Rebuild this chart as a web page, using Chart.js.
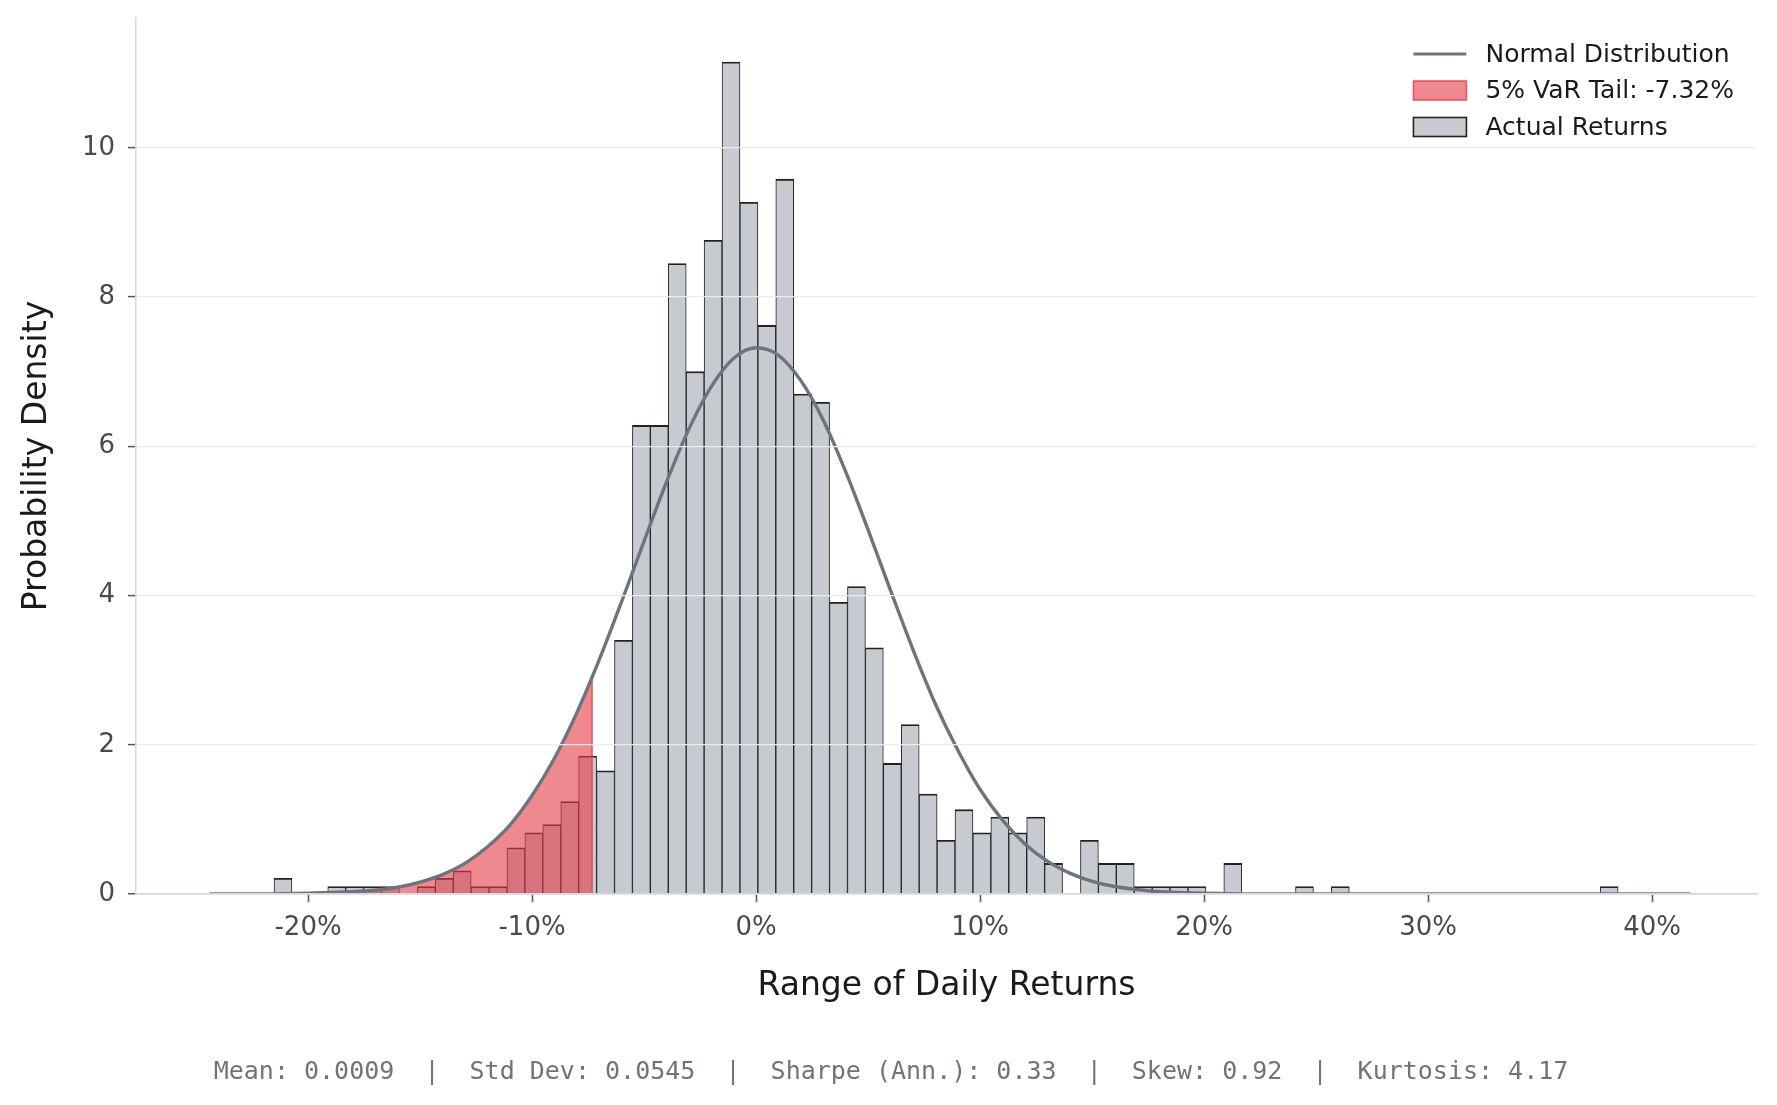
<!DOCTYPE html>
<html>
<head>
<meta charset="utf-8">
<title>Distribution of Daily Returns</title>
<script src="https://cdn.jsdelivr.net/npm/chart.js@4.4.1/dist/chart.umd.min.js"></script>
<style>
  html, body { margin: 0; padding: 0; background: #ffffff; }
  #wrap { width: 1777px; height: 1105px; }
  canvas { display: block; }
</style>
</head>
<body>
<div id="wrap"><canvas id="returnsChart" width="1777" height="1105"></canvas></div>
<script>
// histogram bins (centre of each 0.8% bin, in %) and their density
const binCenters = [
  -21.12, -20.32, -19.52, -18.72, -17.92, -17.12, -16.32, -15.52, -14.72, -13.92,
  -13.12, -12.32, -11.52, -10.72, -9.92, -9.12, -8.32, -7.52, -6.72, -5.92,
  -5.12, -4.32, -3.52, -2.72, -1.92, -1.12, -0.32, 0.48, 1.28, 2.08,
  2.88, 3.68, 4.48, 5.28, 6.08, 6.88, 7.68, 8.48, 9.28, 10.08,
  10.88, 11.68, 12.48, 13.28, 14.08, 14.88, 15.68, 16.48, 17.28, 18.08,
  18.88, 19.68, 20.48, 21.28, 22.08, 22.88, 23.68, 24.48, 25.28, 26.08,
  26.88, 27.68, 28.48, 29.28, 30.08, 30.88, 31.68, 32.48, 33.28, 34.08,
  34.88, 35.68, 36.48, 37.28, 38.08
];
const binDensity = [
  0.21, 0, 0, 0.10, 0.10, 0.10, 0.10, 0, 0.10, 0.21,
  0.31, 0.10, 0.10, 0.62, 0.82, 0.93, 1.24, 1.85, 1.65, 3.40,
  6.28, 6.28, 8.45, 7.00, 8.76, 11.15, 9.27, 7.62, 9.58, 6.70,
  6.59, 3.91, 4.12, 3.30, 1.75, 2.27, 1.34, 0.72, 1.13, 0.82,
  1.03, 0.82, 1.03, 0.41, 0, 0.72, 0.41, 0.41, 0.10, 0.10,
  0.10, 0.10, 0, 0.41, 0, 0, 0, 0.10, 0, 0.10,
  0, 0, 0, 0, 0, 0, 0, 0, 0, 0,
  0, 0, 0, 0, 0.10
];

// normal curve
const normalX = [
  -24.4, -22, -20, -18, -17, -16, -15, -14, -13, -12,
  -11, -10, -9, -8, -7, -6, -5, -4, -3, -2,
  -1, 0, 1, 2, 3, 4, 5, 6, 7, 8,
  9, 10, 11, 12, 13, 14, 15, 16, 17, 18,
  20, 22, 25, 30, 35, 41.7
];
const normalY = [
  0.00, 0.00, 0.01, 0.03, 0.05, 0.09, 0.16, 0.26, 0.41, 0.63,
  0.92, 1.32, 1.82, 2.43, 3.14, 3.92, 4.73, 5.52, 6.23, 6.80,
  7.18, 7.32, 7.22, 6.88, 6.35, 5.66, 4.88, 4.07, 3.28, 2.55,
  1.93, 1.40, 0.99, 0.67, 0.44, 0.28, 0.17, 0.10, 0.06, 0.03,
  0.01, 0.00, 0.00, 0.00, 0.00, 0.00
];

// 5% VaR cut-off (in %) and curve height there
const varCut = -7.32;
const varCutDensity = 2.90;

const xTicks = [-20, -10, 0, 10, 20, 30, 40];
const yTicks = [0, 2, 4, 6, 8, 10];

const seriesLabels = ['Normal Distribution', '5% VaR Tail: -7.32%', 'Actual Returns'];
const statLabels = ['Mean', 'Std Dev', 'Sharpe (Ann.)', 'Skew', 'Kurtosis'];
const statValues = ['0.0009', '0.0545', '0.33', '0.92', '4.17'];

const FONT = 'DejaVu Sans';
const curveColor = '#6c757d';
const tailFill = 'rgba(230, 57, 70, 0.6)';
const tailEdge = 'rgba(230, 57, 70, 0.8)';
const barFill = '#c7cbd1';
const barEdge = '#222222';

// legend drawn inside the plot, top right
const insideLegend = {
  id: 'insideLegend',
  afterDraw: function (chart) {
    const ctx = chart.ctx;
    const area = chart.chartArea;
    const sets = chart.data.datasets;
    ctx.save();
    ctx.font = '25px "' + FONT + '"';
    let widest = 0;
    sets.forEach(function (ds) {
      widest = Math.max(widest, ctx.measureText(ds.label).width);
    });
    const textX = area.right - 23 - widest;
    const boxX = textX - 72;
    sets.forEach(function (ds, i) {
      const y = area.top + 36 + i * 36.5;
      if (ds.type === 'line' && !ds.fill) {
        ctx.strokeStyle = ds.borderColor;
        ctx.lineWidth = 3.2;
        ctx.beginPath();
        ctx.moveTo(boxX, y);
        ctx.lineTo(boxX + 53, y);
        ctx.stroke();
      } else {
        ctx.fillStyle = ds.legendFill;
        ctx.fillRect(boxX, y - 9.5, 53, 19);
        ctx.strokeStyle = ds.legendEdge;
        ctx.lineWidth = 1.6;
        ctx.strokeRect(boxX, y - 9.5, 53, 19);
      }
      ctx.fillStyle = '#1a1a1a';
      ctx.textBaseline = 'middle';
      ctx.textAlign = 'left';
      ctx.fillText(ds.label, textX, y + 1);
    });
    ctx.restore();
  }
};

window.onload = function () {
  Chart.defaults.font.family = FONT;

  const histData = binCenters.map(function (c, i) { return {x: c, y: binDensity[i]}; });
  const curveData = normalX.map(function (x, i) { return {x: x, y: normalY[i]}; });
  let tailData = curveData.filter(function (p) { return p.x < varCut; });
  tailData.push({x: varCut, y: varCutDensity});
  tailData.push({x: varCut, y: 0});

  const footer = statLabels.map(function (l, i) { return l + ': ' + statValues[i]; }).join('  |  ');

  const ctx = document.getElementById('returnsChart').getContext('2d');
  const chart = new Chart(ctx, {
    type: 'bar',
    data: {
      datasets: [{
        type: 'line',
        label: seriesLabels[0],
        data: curveData,
        borderColor: curveColor,
        borderWidth: 3.4,
        pointRadius: 0,
        fill: false,
        cubicInterpolationMode: 'monotone',
        order: 0
      }, {
        type: 'line',
        label: seriesLabels[1],
        data: tailData,
        borderColor: tailEdge,
        borderWidth: 1.5,
        backgroundColor: tailFill,
        legendFill: tailFill,
        legendEdge: tailEdge,
        pointRadius: 0,
        fill: 'origin',
        tension: 0,
        order: 1
      }, {
        type: 'bar',
        label: seriesLabels[2],
        data: histData,
        backgroundColor: barFill,
        borderColor: barEdge,
        legendFill: barFill,
        legendEdge: barEdge,
        borderWidth: function (c) {
          if (!c.raw || c.raw.y <= 0) return 0;
          return {top: 1.8, left: 1.0, right: 1.0, bottom: 0};
        },
        borderSkipped: false,
        barPercentage: 1,
        categoryPercentage: 1,
        order: 2
      }]
    },
    options: {
      responsive: false,
      animation: false,
      // left padding keeps the footer centred like the original; y axis width makes up for it
      layout: {padding: {top: 18, right: 20, left: 25, bottom: 0}},
      plugins: {
        legend: {display: false},
        tooltip: {enabled: false},
        title: {display: false},
        subtitle: {
          display: true,
          position: 'bottom',
          text: footer,
          color: '#6c757d',
          font: {family: 'DejaVu Sans Mono', size: 25, weight: 'normal'},
          padding: {top: 0, bottom: 18}
        }
      },
      scales: {
        x: {
          type: 'linear',
          min: -27.68,
          max: 44.68,
          offset: false,
          afterBuildTicks: function (s) { s.ticks = xTicks.map(function (v) { return {value: v}; }); },
          afterFit: function (s) { s.height = 163; s.paddingLeft = 0; s.paddingRight = 0; },
          grid: {offset: false, drawOnChartArea: false, drawTicks: true, tickLength: 8, tickColor: '#555555', tickWidth: 1.5},
          border: {color: '#d5d9de', width: 1.5},
          ticks: {
            color: '#4a4a4a',
            font: {size: 26},
            padding: 11,
            maxRotation: 0,
            callback: function (v) { return v + '%'; }
          },
          title: {
            display: true,
            text: 'Range of Daily Returns',
            color: '#1a1a1a',
            font: {size: 33},
            padding: {top: 0, bottom: 51}
          }
        },
        y: {
          min: 0,
          max: 11.74,
          afterBuildTicks: function (s) { s.ticks = yTicks.map(function (v) { return {value: v}; }); },
          afterFit: function (s) { s.width = 111; s.paddingTop = 0; s.paddingBottom = 0; },
          grid: {
            z: 1,
            color: function (c) { return c.tick && c.tick.value === 0 ? '#d5d9de' : '#ebebeb'; },
            lineWidth: function (c) { return c.tick && c.tick.value === 0 ? 1.5 : 1.2; },
            tickLength: 8,
            tickColor: '#555555',
            tickWidth: 1.5
          },
          border: {color: '#d5d9de', width: 1.5, z: 2},
          ticks: {color: '#4a4a4a', font: {size: 26}, padding: 13},
          title: {
            display: true,
            text: 'Probability Density',
            color: '#1a1a1a',
            font: {size: 33},
            padding: {top: -7, bottom: 0}
          }
        }
      }
    },
    plugins: [insideLegend]
  });
};
</script>
</body>
</html>
